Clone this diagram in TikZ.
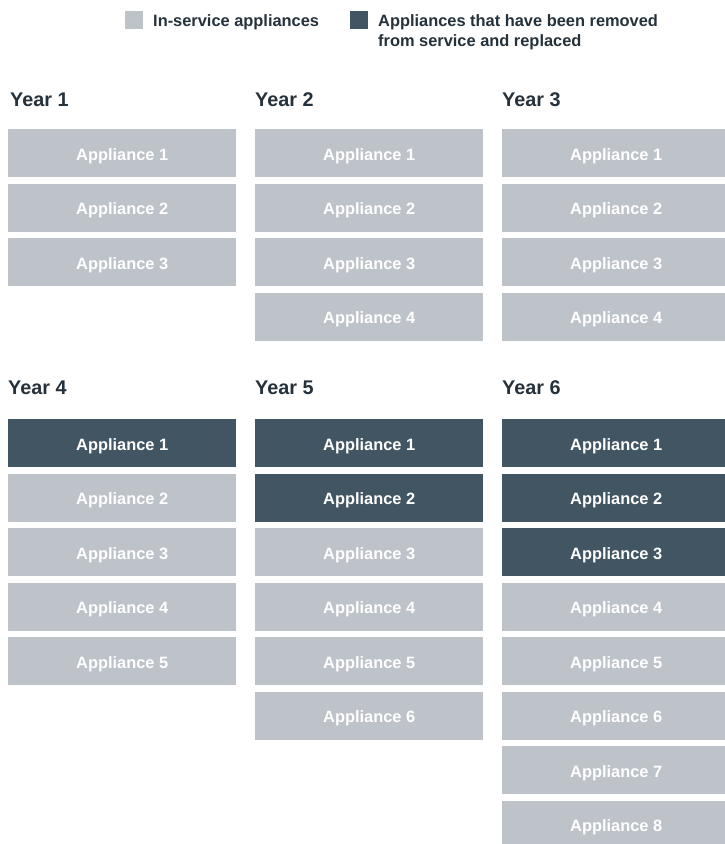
\documentclass[tikz,border=0pt]{standalone}
\usepackage{fontspec}
\setmainfont{Liberation Sans}
\definecolor{inservice}{HTML}{BEC3CA}
\definecolor{replaced}{HTML}{425563}
\definecolor{inktext}{HTML}{25313B}
\tikzset{
  x=1pt, y=-1pt,
  unit/.style={draw=none, minimum width=228pt, minimum height=48pt, inner sep=0pt,
    text height=13.8pt, text depth=0pt, text=white,
    font=\fontsize{16.4}{18}\selectfont\bfseries, anchor=north west},
  inuse/.style={unit, fill=inservice},
  gone/.style={unit, fill=replaced},
  yearlabel/.style={anchor=base west, inner sep=0pt, text=inktext,
    font=\fontsize{19.8}{22}\selectfont\bfseries},
  keybox/.style={fill=#1, minimum size=18pt, inner sep=0pt, anchor=north west},
  keytext/.style={anchor=base west, inner sep=0pt, text=inktext, align=left,
    font=\fontsize{16.4}{19.5}\selectfont\bfseries},
}
\begin{document}
\begin{tikzpicture}
\clip (0,0) rectangle (725,844);
\fill[white] (0,0) rectangle (725,844);

% legend (a two-line key is placed by the baseline of its last line)
\node[keybox=inservice] (keyA) at (125,11) {};
\node[keytext] (keyAtext) at (153,26.5) {In-service appliances};
\node[keybox=replaced] (keyB) at (350,11) {};
\node[keytext] (keyBtext) at (378,46) {Appliances that have been removed\\from service and replaced};

% year headings
\node[yearlabel] (y1) at (10,106) {Year 1};
\node[yearlabel] (y2) at (255,106) {Year 2};
\node[yearlabel] (y3) at (502,106) {Year 3};
\node[yearlabel] (y4) at (8,394) {Year 4};
\node[yearlabel] (y5) at (255,394) {Year 5};
\node[yearlabel] (y6) at (502,394) {Year 6};

% columns of appliances: {name}{x}{top}{count}{how many replaced}
\newcommand{\applstack}[5]{%
  \foreach \i in {1,...,#4} {
    \pgfmathsetmacro{\ytop}{#3 + 54.5*(\i-1)}
    \ifnum\i>#5\relax
      \node[inuse] (#1-\i) at (#2,\ytop) {Appliance \i};
    \else
      \node[gone] (#1-\i) at (#2,\ytop) {Appliance \i};
    \fi
  }%
}
\applstack{yr1}{8}{129}{3}{0}
\applstack{yr2}{255}{129}{4}{0}
\applstack{yr3}{502}{129}{4}{0}
\applstack{yr4}{8}{419}{5}{1}
\applstack{yr5}{255}{419}{6}{2}
\applstack{yr6}{502}{419}{8}{3}
\end{tikzpicture}
\end{document}
